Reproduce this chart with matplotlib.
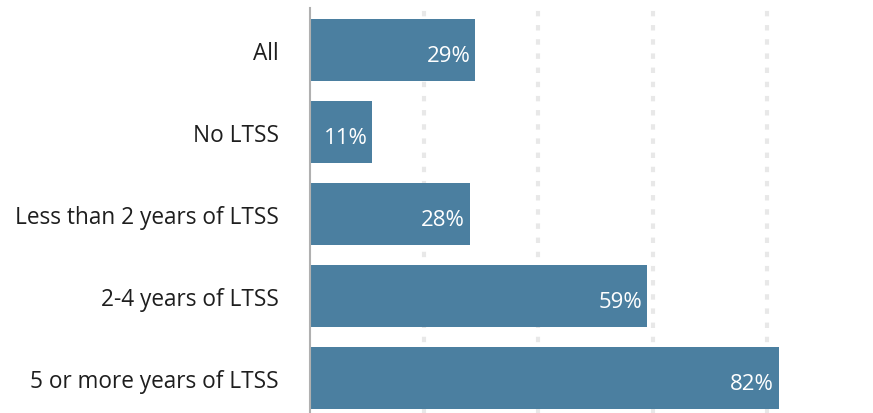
import matplotlib.pyplot as plt

categories = ["All", "No LTSS", "Less than 2 years of LTSS",
              "2-4 years of LTSS", "5 or more years of LTSS"]
values = [29, 11, 28, 59, 82]
value_labels = ["29%", "11%", "28%", "59%", "82%"]
grid_ticks = [20, 40, 60, 80]

bar_color = "#4b7fa0"

plt.rcParams['font.family'] = ['Open Sans', 'DejaVu Sans']

fig = plt.figure(figsize=(8.73, 4.14), dpi=100)
# axes placed in pixel terms: left edge at the value axis line
ax = fig.add_axes([309.5 / 873, 0, (873 - 309.5) / 873, (414 - 9) / 414])

y = list(range(len(categories)))
ax.barh(y, values, height=0.756, color=bar_color, zorder=2)

for yi, v, lab in zip(y, values, value_labels):
    ax.text(v - 0.8, yi + 0.07, lab, color="white", fontsize=16,
            ha="right", va="center", zorder=3)

for g in grid_ticks:
    ax.axvline(g, color="#e8e8e8", lw=3, linestyle=(0, (1.3, 2.1)), zorder=1)

ax.set_xlim(0, 98.5)
ax.set_ylim(4.427, -0.512)
ax.set_yticks(y)
ax.set_yticklabels(categories, fontsize=16.3, color="#1e1e1e")
ax.tick_params(axis="y", length=0, pad=22)
ax.set_xticks([])

for s in ["top", "right", "bottom"]:
    ax.spines[s].set_visible(False)
ax.spines["left"].set_color("#b0b0b0")
ax.spines["left"].set_linewidth(1.5)

fig.savefig("out.png", dpi=100)
